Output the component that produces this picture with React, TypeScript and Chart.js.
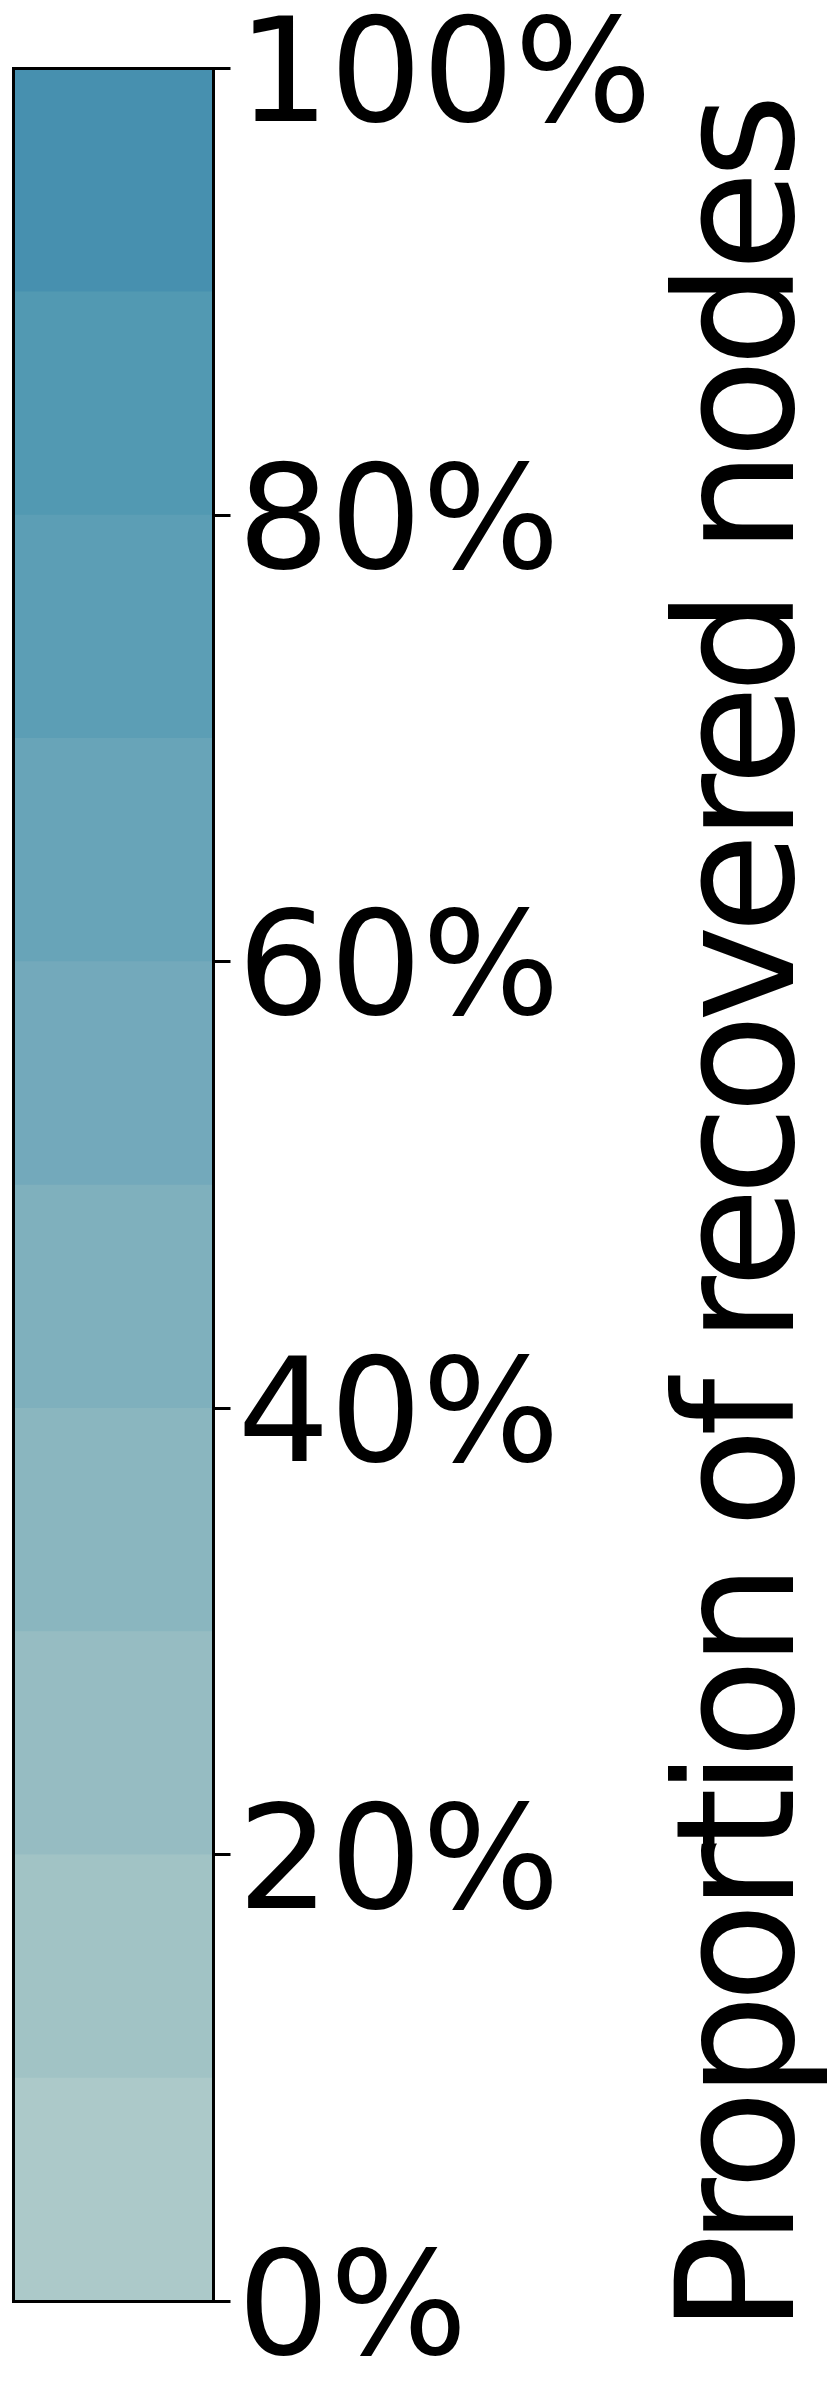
import React, { useEffect, useRef } from "react";
import { Chart, registerables } from "chart.js";

Chart.register(...registerables);

// ---- data ----
const CATEGORIES = ["Proportion"];
// band sizes stacked from 0% (bottom) to 100% (top), 10 bands of 10%
const BAND_VALUES = [10, 10, 10, 10, 10, 10, 10, 10, 10, 10];
const BAND_COLORS = [
  "#acc9c9",
  "#a1c3c5",
  "#96bcc2",
  "#8ab6bf",
  "#7fb0bd",
  "#73a9bb",
  "#68a4b8",
  "#5c9eb5",
  "#5299b2",
  "#4790af",
];
const TICK_VALUES = [0, 20, 40, 60, 80, 100];
const TICK_LABELS = ["0%", "20%", "40%", "60%", "80%", "100%"];
const AXIS_TITLE = "Proportion of recovered nodes";

const FONT = '"DejaVu Sans", sans-serif';

const outlinePlugin = {
  id: "outline",
  afterDatasetsDraw(chart: any) {
    const { ctx, chartArea } = chart;
    ctx.save();
    ctx.strokeStyle = "#000";
    ctx.lineWidth = 3;
    ctx.strokeRect(
      chartArea.left,
      chartArea.top,
      chartArea.right - chartArea.left,
      chartArea.bottom - chartArea.top
    );
    ctx.restore();
  },
};

const titlePlugin = {
  id: "rotatedTitle",
  afterDraw(chart: any) {
    const { ctx, chartArea } = chart;
    const scale = chart.scales.y;
    ctx.save();
    ctx.font = `164px ${FONT}`;
    try {
      (ctx as any).letterSpacing = "-8.5px";
    } catch (e) {}
    ctx.fillStyle = "#000";
    ctx.textAlign = "left";
    ctx.textBaseline = "alphabetic";
    ctx.translate(scale.right - 47, chartArea.bottom + 31.5);
    ctx.rotate(-Math.PI / 2);
    ctx.fillText(AXIS_TITLE, 0, 0);
    ctx.restore();
  },
};

export default function App() {
  const ref = useRef<HTMLCanvasElement | null>(null);

  useEffect(() => {
    if (!ref.current) return;
    const chart = new Chart(ref.current, {
      type: "bar",
      data: {
        labels: CATEGORIES,
        datasets: BAND_VALUES.map((v, i) => ({
          label: `band ${i}`,
          data: [v],
          backgroundColor: BAND_COLORS[i],
          borderWidth: 0,
          categoryPercentage: 1,
          barPercentage: 1,
        })),
      },
      options: {
        animation: false,
        responsive: false,
        devicePixelRatio: 1,
        events: [],
        layout: {
          padding: { left: 13.5, top: 68.5, bottom: 98.5, right: 0 },
        },
        plugins: {
          legend: { display: false },
          tooltip: { enabled: false },
          title: { display: false },
        },
        scales: {
          x: {
            display: false,
            stacked: true,
          },
          y: {
            position: "right",
            stacked: true,
            min: 0,
            max: 100,
            afterBuildTicks: (scale: any) => {
              scale.ticks = TICK_VALUES.map((v) => ({ value: v }));
            },
            afterFit: (scale: any) => {
              scale.width = 840 - 213.5;
              scale.paddingTop = 0;
              scale.paddingBottom = 0;
            },
            ticks: {
              color: "#000",
              padding: 7,
              labelOffset: 15,
              font: { family: FONT, size: 145 },
              callback: (v: any) => TICK_LABELS[TICK_VALUES.indexOf(Number(v))] ?? "",
            },
            grid: {
              drawOnChartArea: false,
              drawTicks: true,
              tickLength: 17,
              color: "#000",
              lineWidth: 3,
            },
            border: { display: false },
            title: { display: false },
          },
        },
      },
      plugins: [outlinePlugin, titlePlugin],
    });
    return () => chart.destroy();
  }, []);

  return (
    <div style={{ position: "absolute", left: 0, top: 0, width: 840, height: 2400, background: "#fff" }}>
      <canvas ref={ref} width={840} height={2400} style={{ width: 840, height: 2400, display: "block" }} />
    </div>
  );
}
